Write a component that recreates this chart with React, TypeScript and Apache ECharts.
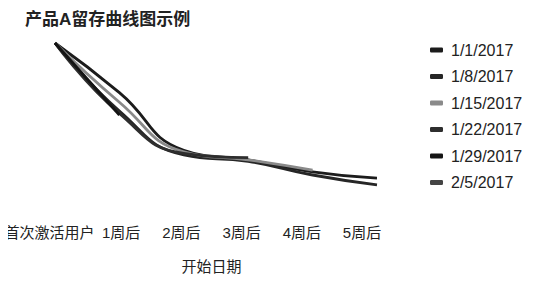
import React, { useEffect, useRef } from "react";
import * as echarts from "echarts";

const categories = ["首次激活用户", "1周后", "2周后", "3周后", "4周后", "5周后"];
const cohorts = ["1/1/2017", "1/8/2017", "1/15/2017", "1/22/2017", "1/29/2017", "2/5/2017"];
const s0101 = [100, 69, 33, 27, 19.5, 15.5];
const s0108 = [100, 57.5, 30, 26, 17.5, 11.3];
const s0115 = [100, 63, 32, 27, 20.5];
const s0122 = [100, 56, 31, 28.3];
const s0129 = [100, 55];
const s0205 = [100];
const seriesValues = [s0101, s0108, s0115, s0122, s0129, s0205];
const seriesColors = ["#1c1c1c", "#262626", "#8a8a8a", "#2e2e2e", "#141414", "#444444"];

const FONT = '"Liberation Sans", "Noto Sans CJK SC", sans-serif';

export default function App() {
  const ref = useRef<HTMLDivElement>(null);
  useEffect(() => {
    if (!ref.current) return;
    const chart = echarts.init(ref.current, undefined, { renderer: "svg" });
    chart.setOption({
      animation: false,
      backgroundColor: "#fff",
      title: {
        text: "产品A留存曲线图示例",
        left: 20,
        top: 6,
        textStyle: { fontSize: 17, fontWeight: "bold", color: "#222", fontFamily: FONT },
      },
      legend: {
        orient: "vertical",
        left: 425,
        top: 37,
        itemWidth: 13,
        itemHeight: 5,
        itemGap: 10.5,
        icon: "roundRect",
        data: cohorts,
        textStyle: { fontSize: 16, color: "#222", fontFamily: FONT, padding: [0, 0, 0, 3] },
      },
      grid: [
        { left: 55, right: 166, top: 43, bottom: 82 },
        { left: 61, right: 181, top: 43, bottom: 65 },
      ],
      xAxis: [
        { type: "category", gridIndex: 0, data: categories, boundaryGap: false, show: false },
        {
          type: "category",
          gridIndex: 1,
          data: categories,
          boundaryGap: false,
          axisLine: { show: false },
          axisTick: { show: false },
          axisLabel: {
            fontSize: 15,
            color: "#222",
            fontFamily: FONT,
            margin: 5,
            interval: 0,
            formatter: (v: string, i: number) => (i === 0 ? "{a|" + v + "}" : v),
            rich: { a: { fontSize: 15, color: "#222", fontFamily: FONT, padding: [0, 23, 0, 0] } },
          },
          name: "开始日期",
          nameLocation: "middle",
          nameGap: 39,
          nameTextStyle: { fontSize: 15, color: "#222", fontFamily: FONT },
        },
      ],
      yAxis: [
        { type: "value", gridIndex: 0, min: 0, max: 100, show: false },
        { type: "value", gridIndex: 1, min: 0, max: 100, show: false },
      ],
      series: cohorts.map((name, i) => ({
        name,
        type: "line",
        xAxisIndex: 0,
        yAxisIndex: 0,
        data: seriesValues[i],
        smooth: 0.5,
        showSymbol: false,
        symbol: "none",
        lineStyle: { width: 2.8, color: seriesColors[i] },
        itemStyle: { color: seriesColors[i] },
      })),
    });
    return () => chart.dispose();
  }, []);
  return <div ref={ref} style={{ width: 543, height: 285, margin: -8 }} />;
}
